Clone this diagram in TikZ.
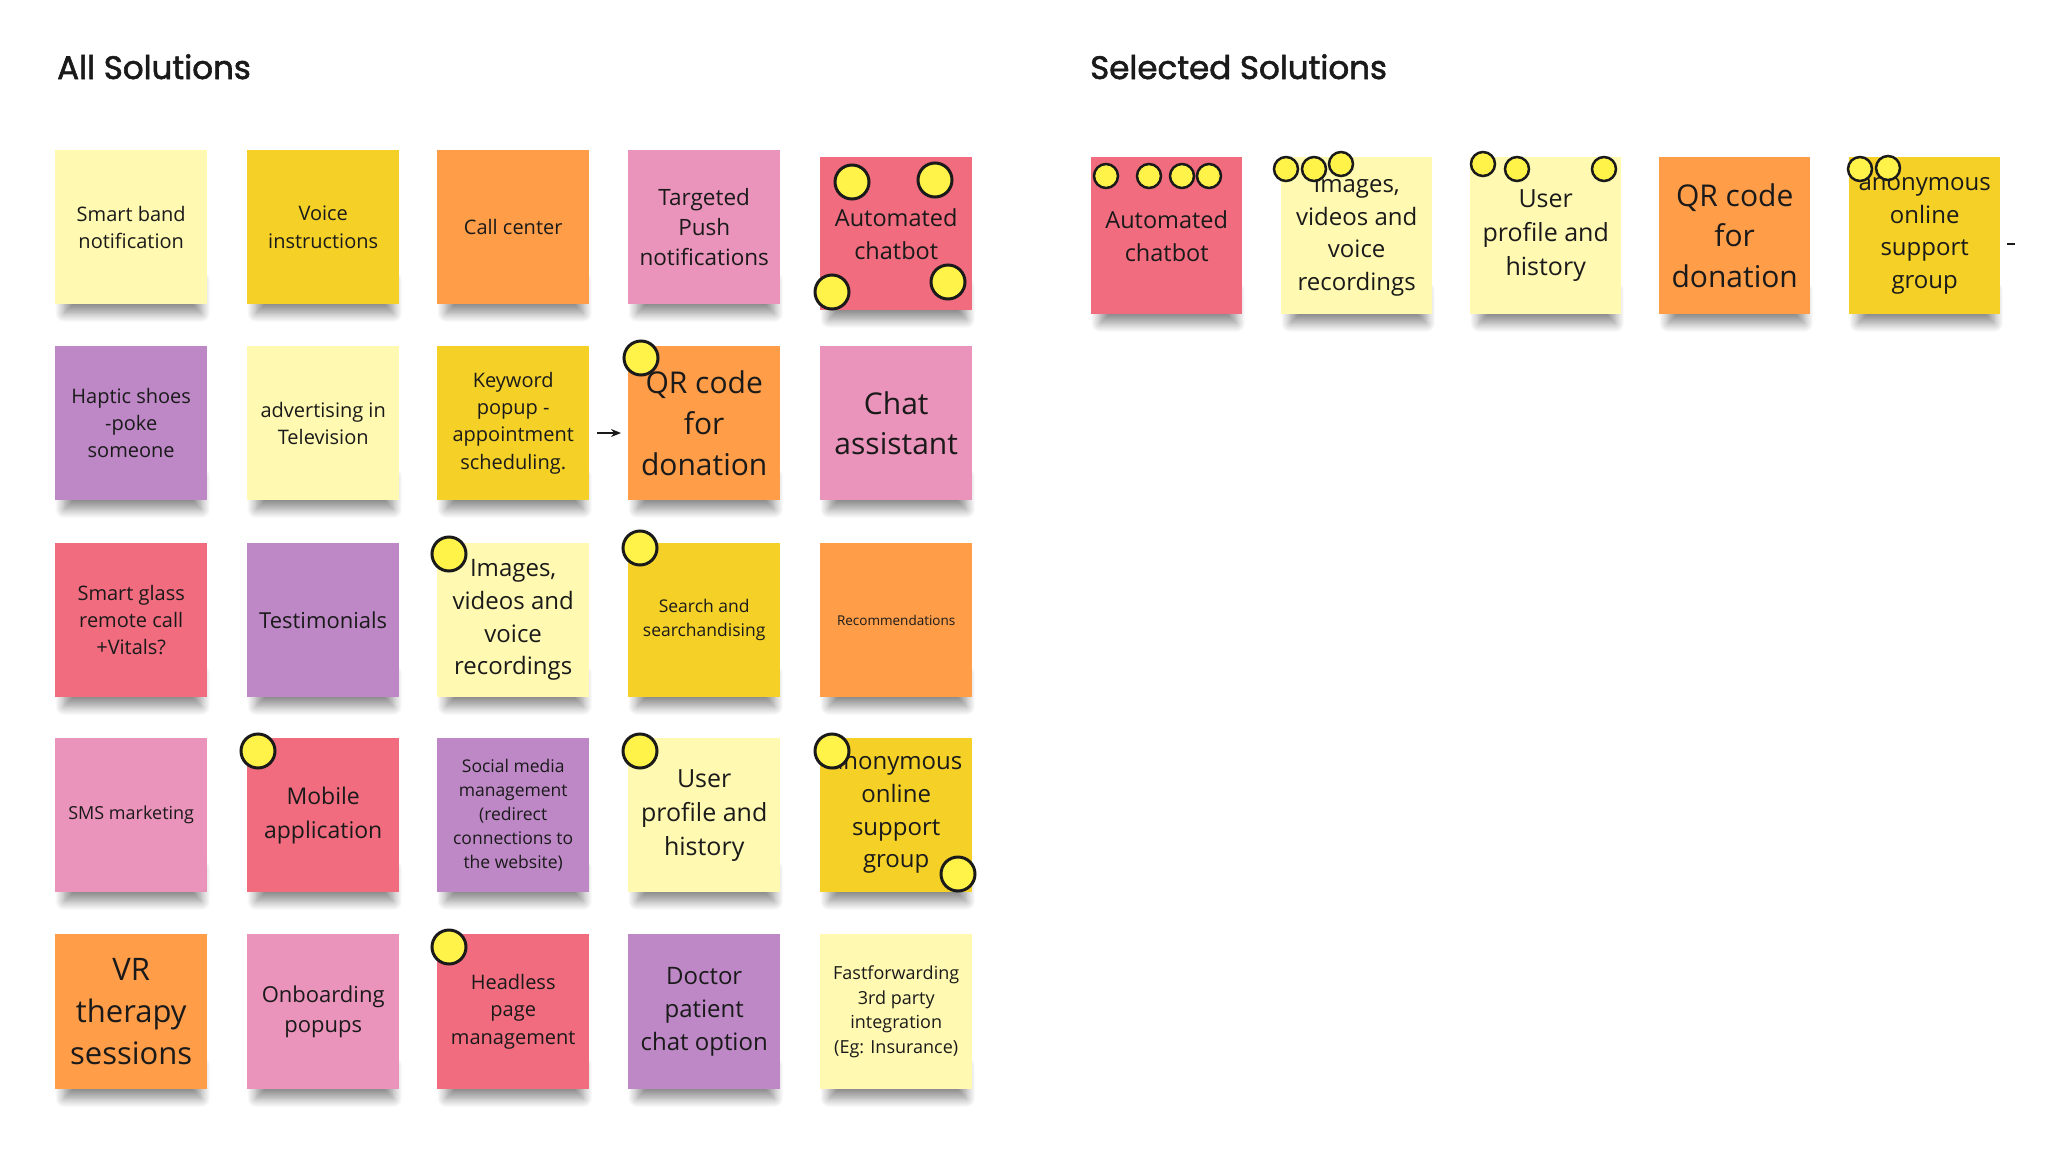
\documentclass[tikz,border=0pt]{standalone}
\usepackage{fontspec}
\setmainfont{Open Sans}
\newfontfamily\titlefont[FakeBold=1.8]{Poppins}
\usetikzlibrary{shadows.blur,arrows.meta}
\pgfdeclarelayer{bg}
\pgfdeclarelayer{shad}
\pgfsetlayers{bg,shad,main}
\definecolor{lyel}{HTML}{FFF9B1}
\definecolor{yel}{HTML}{F5D128}
\definecolor{ora}{HTML}{FF9D48}
\definecolor{pnk}{HTML}{EA94BB}
\definecolor{rd}{HTML}{F16C7F}
\definecolor{vio}{HTML}{BE88C7}
\definecolor{dotyel}{HTML}{FFF34A}
\definecolor{ink}{HTML}{1A1A1A}
\newcommand\cf[1]{\fontsize{#1}{\dimexpr #1pt*136/100\relax}\selectfont}
\newcommand\cfl[2]{\fontsize{#1}{#2}\selectfont}
\tikzset{
  card/.style={fill=#1, minimum width=152pt, minimum height=154pt, inner sep=0pt,
    align=center, text=ink, anchor=north west},
  scard/.style={card=#1, minimum width=151pt, minimum height=157pt},
  cardshadow/.style={blur shadow={shadow xshift=0pt, shadow yshift=0pt,
      shadow blur radius=9pt, shadow blur steps=12, shadow opacity=45}},
  bigdot/.style={circle, fill=dotyel, draw=ink, line width=3pt, minimum size=34pt, inner sep=0pt},
  smalldot/.style={circle, fill=dotyel, draw=ink, line width=2.5pt, minimum size=24pt, inner sep=0pt},
  heading/.style={font=\titlefont\fontsize{32.5}{38}\selectfont, text=ink, anchor=base west, inner sep=0pt},
  conn/.style={draw=ink, line width=1.5pt}
}
\begin{document}
\begin{tikzpicture}[x=1pt,y=-1pt]
\begin{pgfonlayer}{bg}
\fill[white] (0,0) rectangle (2070,1164);
\end{pgfonlayer}
\useasboundingbox (0,0) rectangle (2070,1164);

\node[heading] (t1) at (57,79) {All Solutions};
\node[heading] (t2) at (1090,79) {Selected Solutions};

% Row 1
\node[card=lyel, font=\cf{20}] (c11) at (55,150) {Smart band\\notification};
\node[card=yel, font=\cf{20}] (c12) at (247,150) {Voice\\instructions};
\node[card=ora, font=\cf{20}] (c13) at (437,150) {Call center};
\node[card=pnk, font=\cfl{22.5}{30}] (c14) at (628,150) {Targeted\\Push\\notifications};
\node[card=rd, font=\cfl{23.5}{33}, minimum height=153pt] (c15) at (820,157) {Automated\\chatbot};
% Row 2
\node[card=vio, font=\cf{20}] (c21) at (55,346) {Haptic shoes\\-poke\\someone};
\node[card=lyel, font=\cf{20}] (c22) at (247,346) {advertising in\\Television};
\node[card=yel, font=\cf{20}] (c23) at (437,346) {Keyword\\popup -\\appointment\\scheduling.};
\node[card=ora, font=\cf{30}] (c24) at (628,346) {QR code\\for\\donation};
\node[card=pnk, font=\cfl{30}{40}] (c25) at (820,346) {Chat\\assistant};
% Row 3
\node[card=rd, font=\cf{20}] (c31) at (55,543) {Smart glass\\remote call\\+Vitals?};
\node[card=vio, font=\cf{22}] (c32) at (247,543) {Testimonials};
\node[card=lyel, font=\cf{24}] (c33) at (437,543) {Images,\\videos and\\voice\\recordings};
\node[card=yel, font=\cf{17.5}] (c34) at (628,543) {Search and\\searchandising};
\node[card=ora, font=\cf{13.5}] (c35) at (820,543) {Recommendations};
% Row 4
\node[card=pnk, font=\cf{18}] (c41) at (55,738) {SMS marketing};
\node[card=rd, font=\cfl{23}{34}] (c42) at (247,738) {Mobile\\application};
\node[card=vio, font=\cf{17.5}] (c43) at (437,738) {Social media\\management\\(redirect\\connections to\\the website)};
\node[card=lyel, font=\cf{25}] (c44) at (628,738) {User\\profile and\\history};
\node[card=yel, font=\cf{24}] (c45) at (820,738) {anonymous\\online\\support\\group};
% Row 5
\node[card=ora, font=\cf{31}, minimum height=155pt] (c51) at (55,934) {VR\\therapy\\sessions};
\node[card=pnk, font=\cf{22}, minimum height=155pt] (c52) at (247,934) {Onboarding\\popups};
\node[card=rd, font=\cf{20}, minimum height=155pt] (c53) at (437,934) {Headless\\page\\management};
\node[card=vio, font=\cf{24}, minimum height=155pt] (c54) at (628,934) {Doctor\\patient\\chat option};
\node[card=lyel, font=\cf{18}, minimum height=155pt] (c55) at (820,934) {Fastforwarding\\3rd party\\integration\\(Eg: Insurance)};

% Selected
\node[scard=rd, font=\cfl{23.5}{33}] (s1) at (1091,157) {Automated\\chatbot};
\node[scard=lyel, font=\cf{24}] (s2) at (1281,157) {Images,\\videos and\\voice\\recordings};
\node[scard=lyel, font=\cf{25}] (s3) at (1470,157) {User\\profile and\\history};
\node[scard=ora, font=\cf{30}] (s4) at (1659,157) {QR code\\for\\donation};
\node[scard=yel, font=\cf{24}] (s5) at (1849,157) {anonymous\\online\\support\\group};

% shadows under the cards
\begin{pgfonlayer}{shad}
\path[cardshadow] (-300,-300) rectangle (-200,-200);
\foreach \n in {c11,c12,c13,c14,c15,c21,c22,c23,c24,c25,c31,c32,c33,c34,c35,
                c41,c42,c43,c44,c45,c51,c52,c53,c54,c55,s1,s2,s3,s4,s5}{
  \path[cardshadow] ([xshift=9pt,yshift=24pt]\n.south west) rectangle ([xshift=-6pt,yshift=-9pt]\n.south east);
}
\end{pgfonlayer}

% connectors
\coordinate (a1) at (597,433);
\coordinate (a2) at (621,433);
\draw[conn, -{Stealth[length=10pt,width=8pt]}] (a1) -- (a2);
\coordinate (b1) at (2007,244);
\coordinate (b2) at (2015,244);
\draw[conn] (b1) -- (b2);

% dots (all solutions)
\node[bigdot] (d1) at (852,182) {};
\node[bigdot] (d2) at (935,180) {};
\node[bigdot] (d3) at (832,292) {};
\node[bigdot] (d4) at (948,282) {};
\node[bigdot] (d5) at (641,358) {};
\node[bigdot] (d6) at (449,554) {};
\node[bigdot] (d7) at (640,548) {};
\node[bigdot] (d8) at (258,751) {};
\node[bigdot] (d9) at (640,751) {};
\node[bigdot] (d10) at (832,751) {};
\node[bigdot] (d11) at (958,874) {};
\node[bigdot] (d12) at (449,947) {};

% dots (selected)
\node[smalldot] (e1) at (1106,176) {};
\node[smalldot] (e2) at (1149,176) {};
\node[smalldot] (e3) at (1182,176) {};
\node[smalldot] (e4) at (1209,176) {};
\node[smalldot] (e5) at (1286,169) {};
\node[smalldot] (e6) at (1314,169) {};
\node[smalldot] (e7) at (1341,164) {};
\node[smalldot] (e8) at (1483,164) {};
\node[smalldot] (e9) at (1517,169) {};
\node[smalldot] (e10) at (1604,169) {};
\node[smalldot] (e11) at (1860,169) {};
\node[smalldot] (e12) at (1888,168) {};
\end{tikzpicture}
\end{document}
